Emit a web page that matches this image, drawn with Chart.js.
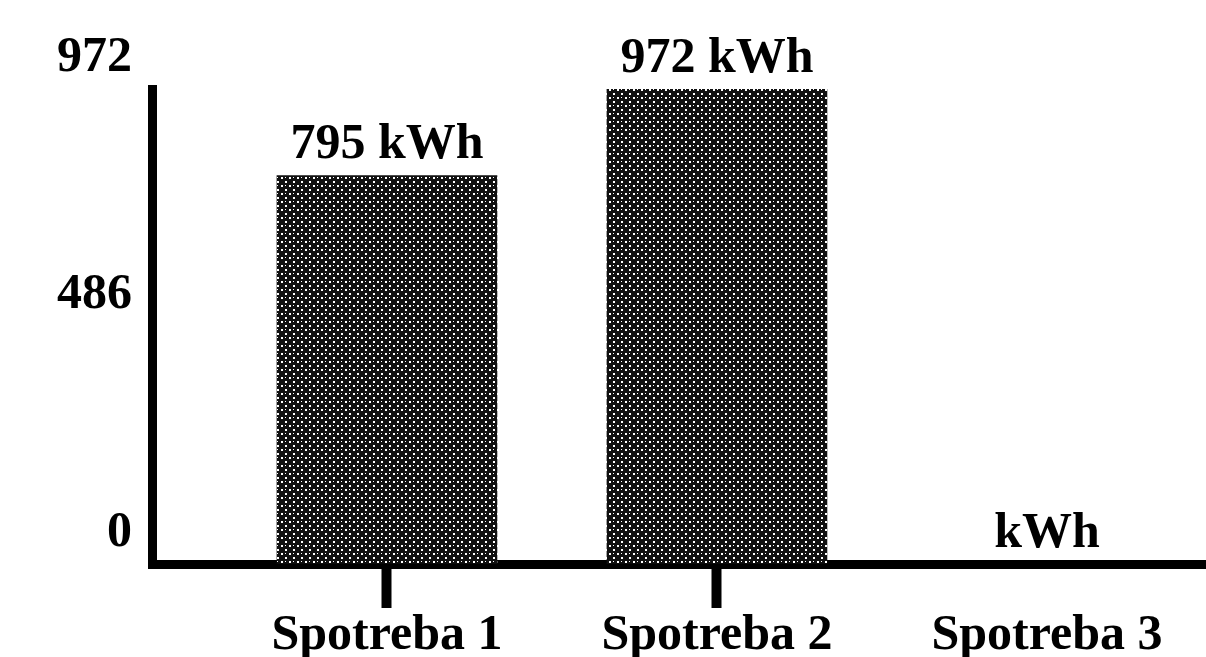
<!DOCTYPE html>
<html>
<head>
<meta charset="utf-8">
<script src="https://cdn.jsdelivr.net/npm/chart.js@4/dist/chart.umd.min.js"></script>
<style>
  body { margin: 0; background: #fff; }
</style>
</head>
<body>
<canvas id="container" width="1206" height="657"></canvas>
<script>
const CATEGORIES = ["Spotreba 1", "Spotreba 2", "Spotreba 3"];
const POSITIONS = [1, 2, 3];
const VALUES = [795, 972, null];
const Y_TICKS = [0, 486, 972];
const UNIT = "kWh";

const FONT = { family: "'Liberation Serif', 'DejaVu Serif', serif", size: 50, weight: "bold" };

// halftone-ish fill like the scanned bars
const make_pattern = () => {
  const tile = document.createElement("canvas");
  tile.width = 8;
  tile.height = 8;
  const c = tile.getContext("2d");
  c.fillStyle = "#111";
  c.fillRect(0, 0, 8, 8);
  c.fillStyle = "#fff";
  c.fillRect(1, 1, 2, 2);
  c.fillRect(5, 5, 2, 2);
  c.fillRect(5, 1, 1, 1);
  return c.createPattern(tile, "repeat");
};

// value labels above bars, "kWh" alone where there is no value
const valueLabels = {
  id: "valueLabels",
  afterDatasetsDraw(chart) {
    const { ctx, scales } = chart;
    ctx.save();
    ctx.font = `${FONT.weight} ${FONT.size}px ${FONT.family}`;
    ctx.fillStyle = "#000";
    ctx.textAlign = "center";
    ctx.textBaseline = "alphabetic";
    VALUES.forEach((v, i) => {
      const x = scales.x.getPixelForValue(POSITIONS[i]);
      const y = scales.y.getPixelForValue(v ?? 0);
      const text = v != null ? `${v} ${UNIT}` : UNIT;
      ctx.fillText(text, x, y - 17);
    });
    ctx.restore();
  },
};

new Chart(document.getElementById("container"), {
  type: "bar",
  data: {
    datasets: [
      {
        data: VALUES.map((v, i) => ({ x: POSITIONS[i], y: v })),
        backgroundColor: make_pattern(),
        borderWidth: 0,
        barThickness: 220,
      },
    ],
  },
  options: {
    responsive: false,
    animation: false,
    layout: { padding: { top: 89, right: 0, bottom: 0, left: 0 } },
    plugins: { legend: { display: false }, tooltip: { enabled: false } },
    scales: {
      x: {
        type: "linear",
        min: 0.288,
        max: 3.482,
        offset: false,
        afterBuildTicks: (scale) => {
          scale.ticks = POSITIONS.map((p) => ({ value: p }));
        },
        afterFit: (scale) => {
          scale.height = 93;
        },
        border: { display: true, color: "#000", width: 9 },
        grid: {
          offset: false,
          drawOnChartArea: false,
          tickLength: 44,
          tickColor: "#000",
          tickWidth: (ctx) => (ctx.index === 2 ? 0 : 10),
        },
        ticks: {
          color: "#000",
          font: FONT,
          padding: -2,
          maxRotation: 0,
          autoSkip: false,
          callback: (value) => CATEGORIES[POSITIONS.indexOf(value)] ?? "",
        },
      },
      y: {
        min: 0,
        max: 972,
        afterBuildTicks: (scale) => {
          scale.ticks = Y_TICKS.map((v) => ({ value: v }));
        },
        afterFit: (scale) => {
          scale.width = 152;
        },
        border: { display: true, color: "#000", width: 9 },
        grid: { drawOnChartArea: false, drawTicks: false },
        ticks: {
          color: "#000",
          font: FONT,
          padding: 20,
          labelOffset: -31,
        },
      },
    },
  },
  plugins: [valueLabels],
});
</script>
</body>
</html>
